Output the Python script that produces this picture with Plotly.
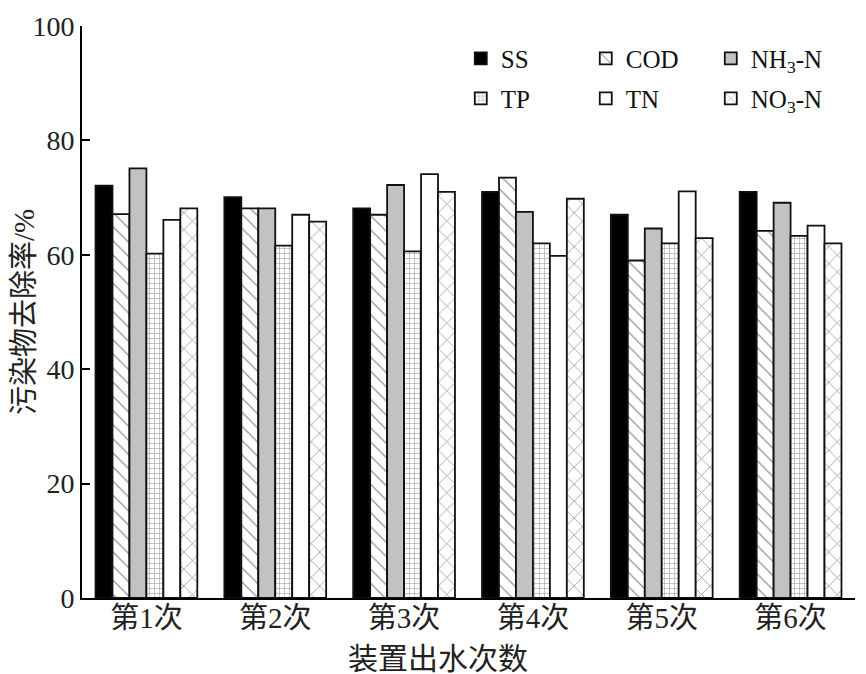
import plotly.graph_objects as go

categories = ["第1次", "第2次", "第3次", "第4次", "第5次", "第6次"]
ss = [72.1, 70.1, 68.1, 71.0, 67.0, 71.0]
cod = [67.1, 68.1, 67.0, 73.5, 59.0, 64.2]
nh3n = [75.1, 68.1, 72.2, 67.5, 64.6, 69.1]
tp = [60.2, 61.6, 60.6, 62.0, 62.0, 63.3]
tn = [66.1, 67.0, 74.1, 59.8, 71.1, 65.1]
no3n = [68.1, 65.8, 71.0, 69.8, 62.9, 62.0]

y_ticks = [0, 20, 40, 60, 80, 100]
x_title = "装置出水次数"
y_title = "污染物去除率/%"

FONT = "Liberation Serif, Times New Roman, Noto Sans CJK SC, serif"

series = [
    ("SS", ss, dict(color="black"), "legend"),
    ("COD", cod, dict(color="white", pattern=dict(shape="\\", fgcolor="#222", bgcolor="white", size=10, solidity=0.12)), "legend"),
    ("NH<sub>3</sub>-N", nh3n, dict(color="#c2c2c2"), "legend"),
    ("TP", tp, dict(color="white", pattern=dict(shape="+", fgcolor="#222", bgcolor="white", size=5, solidity=0.2)), "legend2"),
    ("TN", tn, dict(color="white"), "legend2"),
    ("NO<sub>3</sub>-N", no3n, dict(color="white", pattern=dict(shape="x", fgcolor="#222", bgcolor="white", size=12, solidity=0.12)), "legend2"),
]

fig = go.Figure()
for name, vals, marker, lg in series:
    m = dict(marker)
    m["line"] = dict(color="#111", width=1.8)
    fig.add_trace(go.Bar(x=categories, y=vals, name=name, marker=m, legend=lg))

legend_common = dict(
    orientation="h",
    xanchor="left",
    yanchor="middle",
    bgcolor="rgba(0,0,0,0)",
    font=dict(family=FONT, size=25, color="#111"),
    entrywidth=80,
    entrywidthmode="pixels",
    itemclick=False,
)

fig.update_layout(
    width=858,
    height=666,
    margin=dict(l=74, r=11, t=18, b=76),
    paper_bgcolor="white",
    plot_bgcolor="white",
    barmode="group",
    bargap=0.21,
    bargroupgap=0,
    font=dict(family=FONT, size=22, color="#222"),
    legend=dict(x=0.49, y=0.943, **legend_common),
    legend2=dict(x=0.49, y=0.873, **legend_common),
    xaxis=dict(
        automargin=False,
        showline=True, linecolor="black", linewidth=2,
        ticks="", ticklabelstandoff=-7,
        tickfont=dict(family=FONT, size=29, color="#222"),
        showgrid=False,
    ),
    yaxis=dict(
        automargin=False,
        range=[0, 100], tickvals=y_ticks, ticktext=[str(v) for v in y_ticks],
        showline=True, linecolor="black", linewidth=2,
        ticks="inside", ticklen=8, tickwidth=2, tickcolor="black",
        tickfont=dict(family=FONT, size=28, color="#222"),
        title=dict(text=y_title, font=dict(family=FONT, size=29, color="#222"), standoff=0),
        showgrid=False, zeroline=False,
    ),
    annotations=[
        dict(text=x_title, xref="paper", yref="paper", x=0.46, y=0,
             xanchor="center", yanchor="top", yshift=-42, showarrow=False,
             font=dict(family=FONT, size=30, color="#222")),
    ],
)

fig.write_html("out.html")
